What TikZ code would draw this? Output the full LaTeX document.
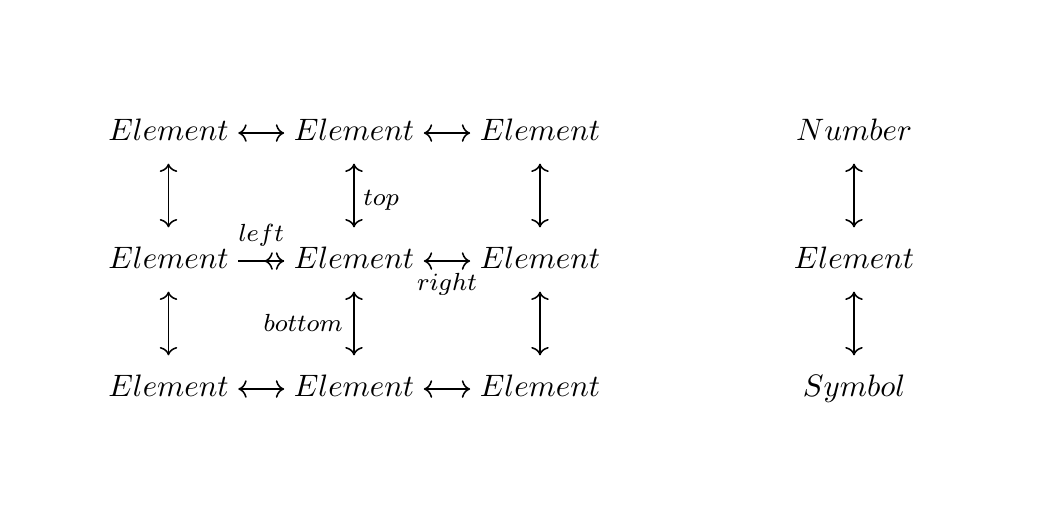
\documentclass[tikz,border=0pt]{standalone}
\usetikzlibrary{arrows.meta}
\begin{document}
\begin{tikzpicture}[x=1pt,y=1pt,
  obj/.style={anchor=base, inner xsep=2.9pt, inner ysep=6.4pt, text height=6.83pt, text depth=0.7pt},
  biarr/.style={line width=0.5pt, {Computer Modern Rightarrow}-{Computer Modern Rightarrow}},
  rarr/.style={line width=0.5pt, -{Computer Modern Rightarrow}},
  larr/.style={line width=0.5pt, {Computer Modern Rightarrow}-},
  lab/.style={font=\fontsize{8.2}{9.6}\selectfont, inner sep=0pt}]
\useasboundingbox (0,0) rectangle (339.7,-167.1);
% row 1
\node[obj] (a1) at (54.35,-45.48) {$Element$};
\node[obj] (a2) at (114.2,-45.48) {$Element$};
\node[obj] (a3) at (174.2,-45.48) {$Element$};
\node[obj] (a4) at (275.5,-45.48) {$Number$};
% row 2
\node[obj] (b1) at (54.35,-86.77) {$Element$};
\node[obj] (b2) at (114.2,-86.77) {$Element$};
\node[obj] (b3) at (174.2,-86.77) {$Element$};
\node[obj] (b4) at (275.5,-86.77) {$Element$};
% row 3
\node[obj] (c1) at (54.35,-128.06) {$Element$};
\node[obj] (c2) at (114.2,-128.06) {$Element$};
\node[obj] (c3) at (174.2,-128.06) {$Element$};
\node[obj] (c4) at (275.5,-128.06) {$Symbol$};
% horizontal arrows
\draw[biarr] ([yshift=-0.5pt]a1.east) -- ([yshift=-0.5pt]a2.west);
\draw[biarr] ([yshift=-0.5pt]a2.east) -- ([yshift=-0.5pt]a3.west);
\draw[rarr] ([yshift=-0.5pt]b1.east) -- node[lab, midway, anchor=base, yshift=6.45pt] (ll) {$left$} coordinate[pos=0.57] (lm) ([yshift=-0.5pt]b2.west);
\draw[larr] (lm) -- ([yshift=-0.5pt]b2.west);
\draw[biarr] ([yshift=-0.5pt]b2.east) -- node[lab, midway, anchor=base, yshift=-9.35pt] (rl) {$right$} ([yshift=-0.5pt]b3.west);
\draw[biarr] ([yshift=-0.5pt]c1.east) -- ([yshift=-0.5pt]c2.west);
\draw[biarr] ([yshift=-0.5pt]c2.east) -- ([yshift=-0.5pt]c3.west);
% vertical arrows
\draw[biarr] (a1) -- (b1);
\draw[biarr] (a2) -- node[lab, midway, anchor=base west, xshift=2.8pt, yshift=-3.1pt] (tl) {$top$} (b2);
\draw[biarr] (a3) -- (b3);
\draw[biarr] (a4) -- (b4);
\draw[biarr] (b1) -- (c1);
\draw[biarr] (b2) -- node[lab, midway, anchor=base east, xshift=-3.4pt, yshift=-2.65pt] (bl) {$bottom$} (c2);
\draw[biarr] (b3) -- (c3);
\draw[biarr] (b4) -- (c4);
\end{tikzpicture}
\end{document}
